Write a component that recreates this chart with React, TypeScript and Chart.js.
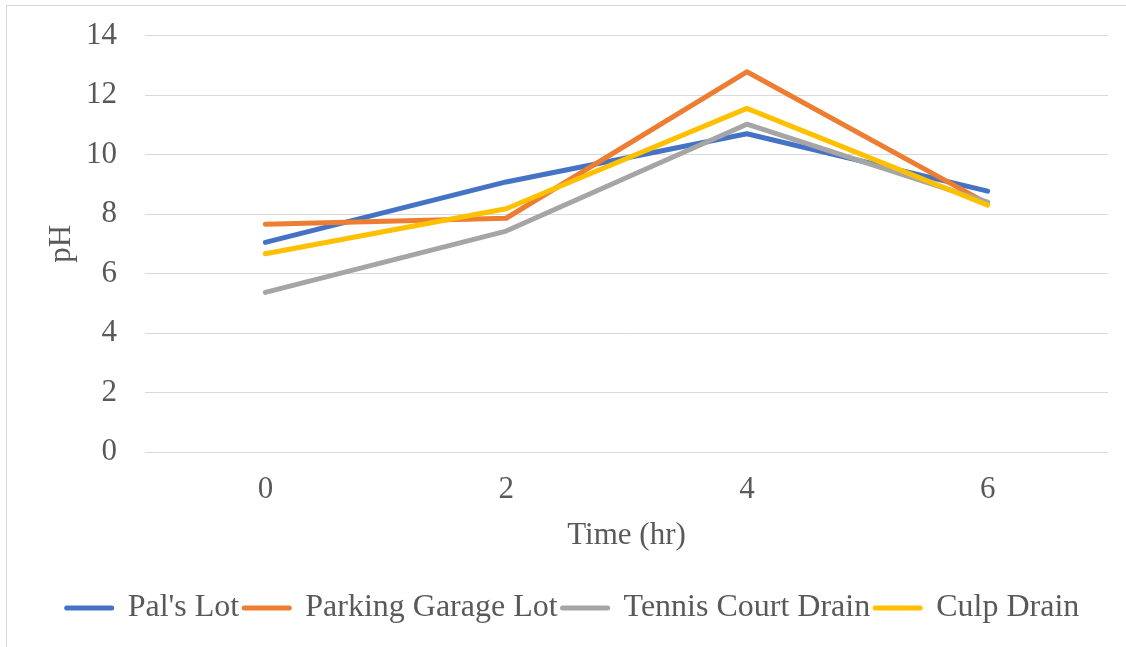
import React, { useEffect, useRef } from "react";
import { Chart, registerables } from "chart.js";

Chart.register(...registerables);

// Sampling times (hours) and pH readings per site
const timeLabels = ["0", "2", "4", "6"];
const palsLot = [7.05, 9.08, 10.7, 8.77];
const parkingGarageLot = [7.66, 7.86, 12.78, 8.35];
const tennisCourtDrain = [5.37, 7.43, 11.02, 8.4];
const culpDrain = [6.67, 8.18, 11.55, 8.3];

const seriesNames = ["Pal's Lot", "Parking Garage Lot", "Tennis Court Drain", "Culp Drain"];
const seriesColors = ["#4472C4", "#ED7D31", "#A5A5A5", "#FFC000"];
const seriesValues = [palsLot, parkingGarageLot, tennisCourtDrain, culpDrain];

const yTickMin = 0;
const yTickMax = 14;
const yTickStep = 2;

const TEXT = "#595959";
const GRID = "#D9D9D9";
const FONT = "'Liberation Serif', 'Times New Roman', serif";

export default function App() {
  const canvasRef = useRef<HTMLCanvasElement | null>(null);

  useEffect(() => {
    const canvas = canvasRef.current;
    if (!canvas) return;

    const datasets = seriesValues.map((values, i) => ({
      label: seriesNames[i],
      data: values,
      borderColor: seriesColors[i],
      backgroundColor: seriesColors[i],
      borderWidth: 5,
      borderCapStyle: "round" as const,
      borderJoinStyle: "round" as const,
      pointRadius: 0,
      pointHoverRadius: 0,
      tension: 0,
      fill: false,
      // later series are painted over earlier ones
      order: seriesValues.length - 1 - i,
    }));

    const chart = new Chart(canvas, {
      type: "line",
      data: { labels: timeLabels, datasets },
      options: {
        responsive: false,
        animation: false,
        layout: { padding: { left: 38, right: 18, top: 35.5, bottom: 13 } },
        plugins: {
          tooltip: { enabled: false },
          legend: {
            position: "bottom",
            align: "center",
            labels: {
              color: TEXT,
              font: { family: FONT, size: 32 },
              boxWidth: 45,
              boxHeight: 0,
              padding: 5,
              sort: (a: any, b: any) => a.datasetIndex - b.datasetIndex,
            },
          },
        },
        scales: {
          x: {
            type: "category",
            offset: true,
            grid: { display: false, drawTicks: true, tickLength: 19.5 },
            border: { display: false },
            ticks: {
              color: TEXT,
              font: { family: FONT, size: 31 },
              padding: 0,
              maxRotation: 0,
              autoSkip: false,
            },
            title: {
              display: true,
              text: "Time (hr)",
              color: TEXT,
              font: { family: FONT, size: 31 },
              padding: { top: 8, bottom: 32.9 },
            },
          },
          y: {
            min: yTickMin,
            max: yTickMax,
            grid: {
              color: GRID,
              lineWidth: 1,
              drawTicks: true,
              tickLength: 28,
              tickColor: "rgba(0,0,0,0)",
            },
            border: { display: false },
            ticks: {
              stepSize: yTickStep,
              color: TEXT,
              font: { family: FONT, size: 31 },
              padding: 0,
            },
            title: {
              display: true,
              text: "pH",
              color: TEXT,
              font: { family: FONT, size: 31 },
              padding: { top: 5.5, bottom: 0 },
            },
            afterFit: (scale: any) => {
              scale.width = 107;
            },
          },
        },
      },
    });

    return () => chart.destroy();
  }, []);

  return (
    <div style={{ position: "fixed", left: 0, top: 0, width: 1126, height: 647, background: "#fff" }}>
      <div
        style={{
          position: "absolute",
          left: 6,
          top: 5,
          width: 1200,
          height: 700,
          borderTop: `1px solid ${GRID}`,
          borderLeft: `1px solid ${GRID}`,
          pointerEvents: "none",
        }}
      />
      <canvas
        ref={canvasRef}
        width={1126}
        height={647}
        style={{ position: "absolute", left: 0, top: 0, width: 1126, height: 647 }}
      />
    </div>
  );
}
